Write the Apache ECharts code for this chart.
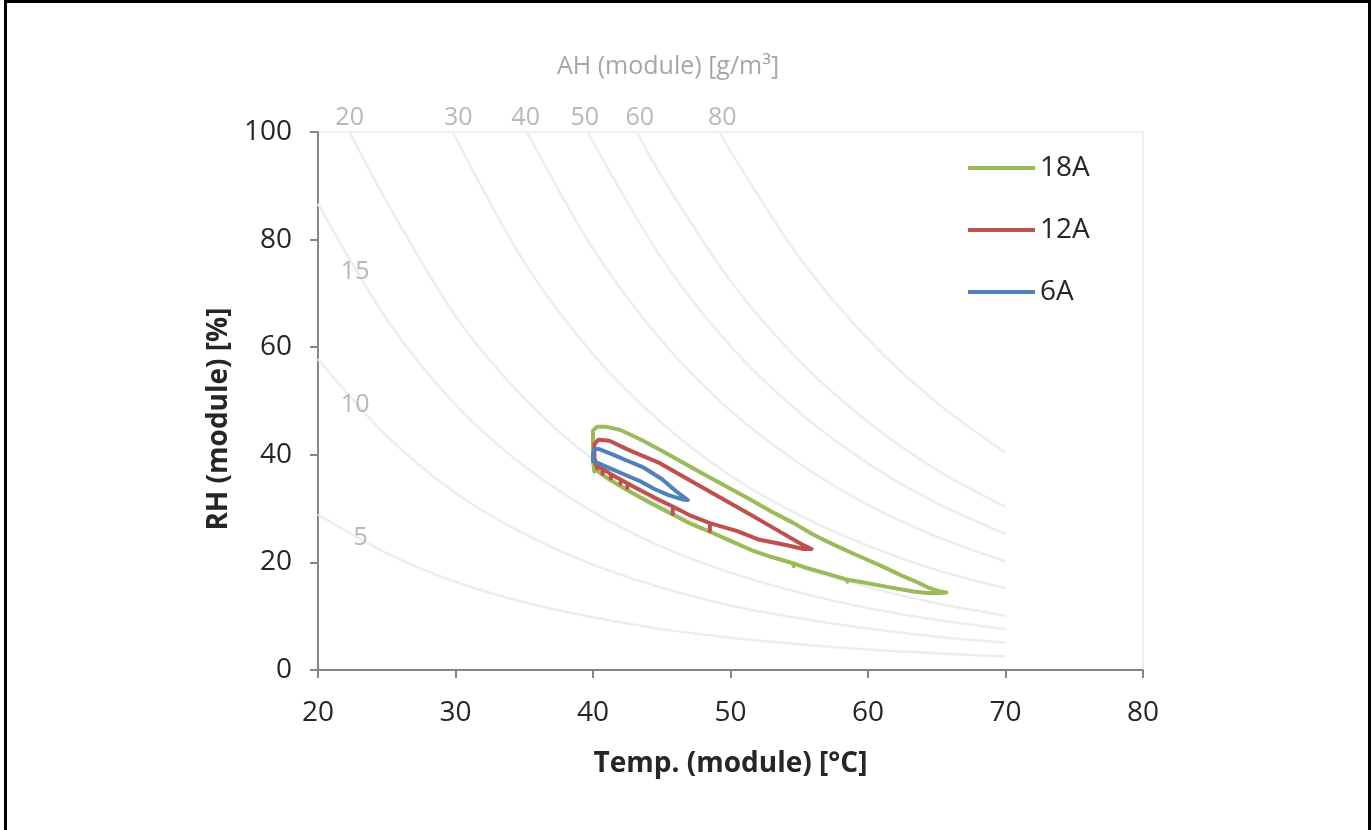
<!DOCTYPE html>
<html>
<head>
<meta charset="utf-8">
<script src="https://cdn.jsdelivr.net/npm/echarts@6/dist/echarts.min.js"></script>
<style>
html,body{margin:0;padding:0;background:#fff;}
#chart{position:absolute;left:0;top:0;width:1372px;height:830px;}
#frame{position:absolute;left:4px;top:0;width:1361px;height:840px;border:3px solid #000;pointer-events:none;box-sizing:content-box;}
</style>
</head>
<body>
<div id="chart"></div>
<div id="frame"></div>
<script>
// ---- data ----
const xTicks = [20, 30, 40, 50, 60, 70, 80];
const yTicks = [0, 20, 40, 60, 80, 100];

const seriesNames = ['18A', '12A', '6A'];

// 18A loop: [temp °C, RH %]
const loop18A = [
  [40.1,36.9],[40.0,39.0],[40.0,42.0],[40.0,44.5],[40.3,45.2],[41.0,45.2],[42.0,44.6],[43.5,42.8],
  [44.9,40.9],[46.5,38.6],[48.0,36.5],[49.7,34.1],[51.5,31.6],[53.0,29.4],[54.6,27.3],[56.0,25.2],
  [57.5,23.3],[59.4,21.1],[61.0,19.3],[62.5,17.5],[63.5,16.4],[64.5,15.2],[65.2,14.6],[65.7,14.4],
  [65.2,14.3],[64.3,14.3],[63.3,14.6],[61.5,15.4],[59.4,16.4],[58.5,16.8],[58.5,16.4],[58.5,16.8],
  [57.0,17.9],[55.5,19.0],[54.6,19.8],[54.6,19.3],[54.6,19.8],[53.0,21.0],[51.5,22.3],[50.0,24.0],
  [48.5,25.7],[47.0,27.3],[45.8,28.9],[44.0,31.3],[42.5,33.4],[41.2,35.4],[40.3,37.0]
];

// 12A loop
const loop12A = [
  [40.3,37.5],[40.1,39.5],[40.1,42.0],[40.4,42.8],[41.2,42.6],[42.5,41.0],[44.9,38.4],[47.0,35.3],
  [49.7,31.4],[51.5,28.8],[53.4,26.0],[54.6,24.2],[55.3,23.2],[55.9,22.5],[55.3,22.5],[54.6,22.9],
  [53.5,23.5],[52.1,24.2],[50.5,25.8],[48.5,27.3],[48.5,25.8],[48.5,27.3],[47.0,28.8],[45.8,30.4],
  [45.8,29.0],[45.8,30.4],[44.5,32.0],[43.0,34.0],[42.5,34.7],[42.5,33.8],[42.5,34.7],[42.0,35.4],
  [42.0,34.6],[42.0,35.4],[41.3,36.4],[41.3,35.6],[41.3,36.4],[40.7,37.4],[40.7,36.5],[40.7,37.4],
  [40.3,37.8]
];

// 6A loop
const loop6A = [
  [40.0,38.8],[40.0,40.0],[40.1,41.0],[40.4,41.1],[41.5,40.0],[42.5,38.9],[43.7,37.6],[45.0,35.5],
  [46.0,33.3],[46.9,31.6],[46.5,31.7],[45.5,32.5],[44.5,33.6],[43.5,35.0],[42.5,36.1],[41.5,37.2],
  [40.5,38.3],[40.0,38.8]
];

// background isolines of absolute humidity (g/m³): [temp °C, RH %]
const ahLevels = [5, 10, 15, 20, 30, 40, 50, 60, 80];
const ahCurve5  = [[20,28.9],[25,21.7],[30,16.4],[35,12.6],[40,9.8],[45,7.6],[50,6.0],[55,4.8],[60,3.8],[65,3.1],[70,2.5]];
const ahCurve10 = [[20,57.8],[25,43.5],[30,32.9],[35,25.3],[40,19.6],[45,15.3],[50,12.0],[55,9.6],[60,7.7],[65,6.2],[70,5.1]];
const ahCurve15 = [[20,86.7],[25,65.2],[30,49.3],[35,37.9],[40,29.4],[45,22.9],[50,18.1],[55,14.4],[60,11.5],[65,9.3],[70,7.6]];
const ahCurve20 = [[22.3,100],[25,87.0],[30,65.8],[35,50.5],[40,39.1],[45,30.6],[50,24.1],[55,19.2],[60,15.4],[65,12.4],[70,10.1]];
const ahCurve30 = [[29.8,100],[35,75.8],[40,58.7],[45,45.9],[50,36.1],[55,28.8],[60,23.1],[65,18.6],[70,15.2]];
const ahCurve40 = [[35.2,100],[40,78.3],[45,61.2],[50,48.2],[55,38.4],[60,30.7],[65,24.8],[70,20.2]];
const ahCurve50 = [[39.6,100],[45,76.5],[50,60.2],[55,47.9],[60,38.4],[65,31.0],[70,25.3]];
const ahCurve60 = [[43.2,100],[45,91.7],[50,72.3],[55,57.5],[60,46.1],[65,37.2],[70,30.3]];
const ahCurve80 = [[49.2,100],[50,96.4],[55,76.7],[60,61.5],[65,49.7],[70,40.4]];
const ahCurves = [ahCurve5, ahCurve10, ahCurve15, ahCurve20, ahCurve30, ahCurve40, ahCurve50, ahCurve60, ahCurve80];

// isoline labels and where they sit [temp, RH]
const ahLabelTexts = ['5', '10', '15', '20', '30', '40', '50', '60', '80'];
const ahLabelAt = [[23.1,24.5],[22.7,49.3],[22.7,74.0],[22.3,102.6],[30.2,102.6],[35.1,102.6],[39.4,102.6],[43.4,102.6],[49.4,102.6]];

// ---- chart ----
const FONT = '"Open Sans", "Noto Sans", sans-serif';
const FS = 28;
const FS_GRAY = 25;
const colors = {'18A': '#9bbb59', '12A': '#c0504d', '6A': '#4f81bd'};
const loops = {'18A': loop18A, '12A': loop12A, '6A': loop6A};

const series = [];
ahCurves.forEach((c, i) => {
  series.push({
    name: 'AH ' + ahLevels[i],
    type: 'line', data: c, symbol: 'none', silent: true, z: 1, smooth: 0.3,
    lineStyle: {color: '#ededed', width: 2.5}
  });
});
series.push({
  name: 'AH labels', type: 'scatter', symbolSize: 0, silent: true, z: 2, clip: false,
  data: ahLabelAt.map((p, i) => ({value: p, name: ahLabelTexts[i]})),
  label: {show: true, position: 'inside', formatter: '{b}', color: '#a6a6a6', fontSize: FS_GRAY, fontFamily: FONT}
});
seriesNames.forEach(n => {
  series.push({
    name: n, type: 'line', data: loops[n], symbol: 'none', z: 5,
    lineStyle: {color: colors[n], width: 4, join: 'round', cap: 'round'}, itemStyle: {color: colors[n]}
  });
});

const chart = echarts.init(document.getElementById('chart'), null, {renderer: 'canvas'});
chart.setOption({
  animation: false,
  backgroundColor: '#fff',
  grid: {left: 318, right: 229, top: 132, bottom: 160, show: true, borderColor: '#efefef', borderWidth: 2},
  xAxis: {
    type: 'value', min: 20, max: 80, interval: 10,
    name: 'Temp. (module) [°C]', nameLocation: 'middle', nameGap: 80,
    nameTextStyle: {fontFamily: FONT, fontSize: FS, fontWeight: 'bold', color: '#262626'},
    axisLine: {show: true, onZero: false, lineStyle: {color: '#868686', width: 2}},
    axisTick: {show: true, length: 8, lineStyle: {color: '#868686', width: 2}},
    axisLabel: {fontFamily: FONT, fontSize: FS, color: '#262626', margin: 29,
      formatter: v => xTicks.includes(v) ? String(v) : ''},
    splitLine: {show: false}
  },
  yAxis: {
    type: 'value', min: 0, max: 100, interval: 20,
    name: 'RH (module) [%]', nameLocation: 'middle', nameGap: 80,
    nameTextStyle: {fontFamily: FONT, fontSize: FS, fontWeight: 'bold', color: '#262626', padding: [0, 36, 0, 0]},
    axisLine: {show: true, onZero: false, lineStyle: {color: '#868686', width: 2}},
    axisTick: {show: true, length: 8, lineStyle: {color: '#868686', width: 2}},
    axisLabel: {fontFamily: FONT, fontSize: FS, color: '#262626', margin: 26,
      formatter: v => yTicks.includes(v) ? String(v) : ''},
    splitLine: {show: false}
  },
  legend: {
    data: seriesNames, orient: 'vertical', left: 963, top: 147,
    icon: 'rect', itemWidth: 67, itemHeight: 4, itemGap: 30,
    textStyle: {fontFamily: FONT, fontSize: FS, color: '#262626', lineHeight: 32}
  },
  graphic: [{
    type: 'text', left: 557, top: 54,
    style: {text: 'AH (module) [g/m³]', fontFamily: FONT, fontSize: FS_GRAY, fill: '#a6a6a6'}
  }],
  series: series
});
</script>
</body>
</html>
